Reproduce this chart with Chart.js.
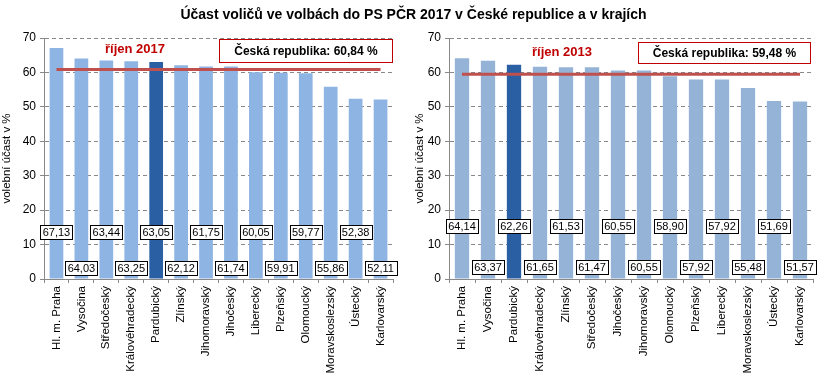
<!DOCTYPE html>
<html><head><meta charset="utf-8">
<script src="https://cdn.jsdelivr.net/npm/chart.js@4"></script>
<style>
html,body{margin:0;padding:0;background:#fff;}
#wrap{position:relative;width:827px;height:374px;overflow:hidden;font-family:Arial,"Liberation Sans",sans-serif;}
canvas{position:absolute;top:0;}
#title{position:absolute;left:0;width:827px;top:6px;text-align:center;font-weight:bold;font-size:14px;color:#000;}
.period{position:absolute;color:#C00000;font-weight:bold;font-size:13px;}
.crbox{position:absolute;border:1px solid #C00000;background:#fff;font-weight:bold;font-size:12px;text-align:center;box-sizing:border-box;}
</style></head>
<body><div id="wrap">
<canvas id="c1" width="413" height="374" style="left:0;width:413px;height:374px"></canvas>
<canvas id="c2" width="414" height="374" style="left:413px;width:414px;height:374px"></canvas>
<div id="title">Účast voličů ve volbách do PS PČR 2017 v České republice a v krajích</div>
<div class="period" style="left:105px;top:41px">říjen 2017</div>
<div class="crbox" style="left:219px;top:39px;width:174px;height:24px;line-height:22px">Česká republika: 60,84 %</div>
<div class="period" style="left:532px;top:44px">říjen 2013</div>
<div class="crbox" style="left:638px;top:42px;width:173px;height:22px;line-height:20px">Česká republika: 59,48 %</div>
</div>
<script>
const regions2017 = ['Hl. m. Praha','Vysočina','Středočeský','Královéhradecký','Pardubický','Zlínský','Jihomoravský','Jihočeský','Liberecký','Plzeňský','Olomoucký','Moravskoslezský','Ústecký','Karlovarský'];
const turnout2017 = [67.13,64.03,63.44,63.25,63.05,62.12,61.75,61.74,60.05,59.91,59.77,55.86,52.38,52.11];
const cr2017 = 60.84;

const regions2013 = ['Hl. m. Praha','Vysočina','Pardubický','Královéhradecký','Zlínský','Středočeský','Jihočeský','Jihomoravský','Olomoucký','Plzeňský','Liberecký','Moravskoslezský','Ústecký','Karlovarský'];
const turnout2013 = [64.14,63.37,62.26,61.65,61.53,61.47,60.55,60.55,58.90,57.92,57.92,55.48,51.69,51.57];
const cr2013 = 59.48;

const yTicks = [0,10,20,30,40,50,60,70];
const highlight = 'Pardubický';
const yTitle = 'volební účast v %';
const FONT = 'Arial, "Liberation Sans", sans-serif';

function labelPlugin(upOff, lowOff){
  return {
    id:'boxLabels',
    afterDatasetsDraw(chart){
      const ctx = chart.ctx;
      const meta = chart.getDatasetMeta(1);
      const ds = chart.data.datasets[1];
      const bottom = chart.chartArea.bottom;
      ctx.save();
      ctx.font = '11px ' + FONT;
      ctx.textAlign='center'; ctx.textBaseline='middle';
      meta.data.forEach((bar,i)=>{
        const txt = ds.data[i].toFixed(2).replace('.',',');
        const w = 32, h = 14;
        const cx = bar.x, cy = bottom - (i%2===0 ? upOff : lowOff);
        const x0 = Math.round(cx-w/2)+0.5, y0 = Math.round(cy-h/2)+0.5;
        ctx.fillStyle='#fff';
        ctx.fillRect(x0, y0, w, h);
        ctx.strokeStyle='#000'; ctx.lineWidth=1;
        ctx.strokeRect(x0, y0, w, h);
        ctx.fillStyle='#000';
        ctx.fillText(txt, cx, cy+1);
      });
      ctx.restore();
    }
  };
}

function makeChart(id, labels, values, cr, light, yWidth, padRight, upOff, lowOff){
  const colors = labels.map(l => l===highlight ? '#2A5FA4' : light);
  return new Chart(document.getElementById(id), {
    type:'bar',
    data:{
      labels: labels,
      datasets:[
        {type:'line', data: labels.map(()=>cr), borderColor:'#C0504D', borderWidth:3, pointRadius:0, fill:false, order:0},
        {type:'bar', data: values, backgroundColor: colors, barPercentage:0.55, categoryPercentage:1.0, order:1}
      ]
    },
    options:{
      responsive:false, animation:false, devicePixelRatio:1,
      layout:{padding:{top:38,right:padRight,left:0,bottom:0}},
      plugins:{legend:{display:false}, tooltip:{enabled:false}, title:{display:false}},
      scales:{
        x:{
          offset:true,
          grid:{offset:true, drawOnChartArea:false, drawTicks:true, tickLength:4, color:'#888'},
          border:{color:'#888'},
          ticks:{maxRotation:90, minRotation:90, color:'#000', font:{size:11.5, family:FONT}, padding:3, autoSkip:false},
          afterFit(s){ s.height = 95; }
        },
        y:{
          min:0, max:70,
          afterBuildTicks(s){ s.ticks = yTicks.map(v=>({value:v})); },
          grid:{color:'#888', lineWidth:1, tickLength:4, drawTicks:true, drawOnChartArea:true},
          border:{color:'#888', dash:[4,3]},
          ticks:{color:'#000', font:{size:12, family:FONT}, padding:4},
          title:{display:true, text:yTitle, color:'#000', font:{size:11.5, family:FONT}, padding:{top:0,bottom:0}},
          afterFit(s){ s.width = yWidth; }
        }
      }
    },
    plugins:[labelPlugin(upOff, lowOff)]
  });
}

makeChart('c1', regions2017, turnout2017, cr2017, '#8DB4E2', 44, 20, 47, 11);
makeChart('c2', regions2013, turnout2013, cr2013, '#95B3D7', 36, 14, 53, 12);
</script>
</body></html>
